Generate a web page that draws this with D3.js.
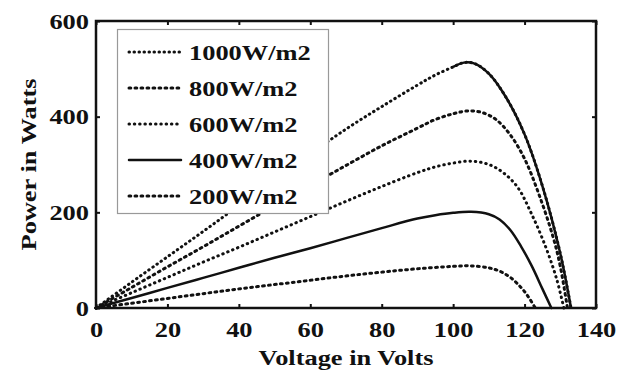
<!DOCTYPE html>
<html>
<head>
<meta charset="utf-8">
<script src="https://cdn.jsdelivr.net/npm/d3@7"></script>
<style>
  html, body { margin: 0; padding: 0; background: #fff; }
  svg { display: block; }
  text { font-family: "Liberation Serif", "Times New Roman", serif; font-weight: bold; fill: #111; }
</style>
</head>
<body>
<svg id="chart" width="629" height="372"></svg>
<script>
// ---- data ----
const xTicks = [0, 20, 40, 60, 80, 100, 120, 140];
const yTicks = [0, 200, 400, 600];
const xTitle = "Voltage in Volts";
const yTitle = "Power in Watts";
const seriesNames = ["1000W/m2", "800W/m2", "600W/m2", "400W/m2", "200W/m2"];

const v1000 = [0, 10, 20, 30, 40, 50, 60, 70, 80, 90, 95, 100, 103, 106, 110, 115, 120, 125, 130, 133];
const p1000 = [0, 54, 107, 160, 214, 268, 322, 374, 421, 466, 487, 504, 513, 511, 490, 438, 363, 255, 114, 0];

const v800 = [0, 10, 20, 30, 40, 50, 60, 70, 80, 90, 95, 100, 104, 108, 112, 116, 120, 124, 128, 130, 132];
const p800 = [0, 43, 86, 128, 171, 214, 256, 298, 339, 376, 394, 406, 412, 409, 394, 362, 312, 238, 148, 87, 0];

const v600 = [0, 10, 20, 30, 40, 50, 60, 70, 80, 90, 95, 100, 105, 110, 114, 118, 122, 126, 129, 131];
const p600 = [0, 32, 64, 96, 127, 159, 191, 223, 254, 283, 295, 303, 307, 300, 283, 253, 196, 126, 60, 0];

const v400 = [0, 10, 20, 30, 40, 50, 60, 70, 80, 90, 95, 100, 105, 110, 113, 116, 119, 122, 125, 127.5];
const p400 = [0, 21, 42, 63, 84, 105, 125, 146, 167, 187, 194, 199, 201, 196, 185, 163, 129, 88, 40, 0];

const v200 = [0, 10, 20, 30, 40, 50, 60, 70, 80, 90, 100, 105, 110, 113, 116, 119, 121, 123];
const p200 = [0, 10, 20, 30, 40, 49, 58, 67, 75, 82, 87, 88, 84, 77, 64, 43, 24, 0];

const voltages = [v1000, v800, v600, v400, v200];
const powers = [p1000, p800, p600, p400, p200];

// ---- layout / style ----
const svg = d3.select("#chart");
const mL = 96, mR = 596, mT = 21, mB = 308;
const SX = 1.2; // horizontal text stretch
const x = d3.scaleLinear().domain([0, 140]).range([mL, mR]);
const y = d3.scaleLinear().domain([0, 600]).range([mB, mT]);

const dashes = ["0.5,4.5", "1.8,4.2", "0.5,4.8", null, "1.8,4.2"];

const line = d3.line()
  .x(d => x(d[0]))
  .y(d => y(d[1]))
  .curve(d3.curveCatmullRom.alpha(0.5));

const seriesData = voltages.map((vs, i) => vs.map((v, j) => [v, powers[i][j]]));

function styled(sel, i) {
  sel.attr("fill", "none").attr("stroke", "#111")
    .attr("stroke-width", i === 3 ? 2.5 : 3)
    .attr("stroke-linecap", "round");
  if (dashes[i]) sel.attr("stroke-dasharray", dashes[i]);
  return sel;
}

// curves
const gCurves = svg.append("g");
seriesData.forEach((pts, i) => {
  styled(gCurves.append("path").attr("d", line(pts)), i);
  if (i === 0) {
    // dense dots merge into a solid stroke past the peak in the reference
    gCurves.append("path")
      .attr("d", line(pts.filter(d => d[0] >= 100)))
      .attr("fill", "none").attr("stroke", "#111")
      .attr("stroke-width", 2.5);
  }
});

// axes (ticks inward, mirrored)
const tickLen = 4;
const xAxis = svg.append("g").attr("transform", `translate(0,${mB})`)
  .call(d3.axisBottom(x).tickValues(xTicks).tickSizeInner(-tickLen).tickSizeOuter(0).tickFormat(d3.format("d")));
const xAxisTop = svg.append("g").attr("transform", `translate(0,${mT})`)
  .call(d3.axisTop(x).tickValues(xTicks).tickSizeInner(-tickLen).tickSizeOuter(0).tickFormat(""));
const yAxis = svg.append("g").attr("transform", `translate(${mL},0)`)
  .call(d3.axisLeft(y).tickValues(yTicks).tickSizeInner(-tickLen).tickSizeOuter(0).tickFormat(d3.format("d")));
const yAxisR = svg.append("g").attr("transform", `translate(${mR},0)`)
  .call(d3.axisRight(y).tickValues(yTicks).tickSizeInner(-tickLen).tickSizeOuter(0).tickFormat(""));

[xAxis, xAxisTop, yAxis, yAxisR].forEach(g => {
  g.select(".domain").remove();
  g.selectAll(".tick line").attr("stroke", "#111").attr("stroke-width", 2);
});

xAxis.selectAll(".tick text")
  .attr("y", 0).attr("dy", 0)
  .attr("transform", `translate(0,29) scale(${SX},1)`)
  .attr("text-anchor", "middle")
  .style("font-size", "22px").style("font-family", "Liberation Serif").style("font-weight", "bold").attr("fill", "#111");

yAxis.selectAll(".tick text")
  .attr("x", 0).attr("dy", 0)
  .attr("transform", `translate(-7,7) scale(${SX},1)`)
  .attr("text-anchor", "end")
  .style("font-size", "22px").style("font-family", "Liberation Serif").style("font-weight", "bold").attr("fill", "#111");

// frame
svg.append("rect")
  .attr("x", mL).attr("y", mT)
  .attr("width", mR - mL).attr("height", mB - mT)
  .attr("fill", "none").attr("stroke", "#111").attr("stroke-width", 2.5);

// axis titles
svg.append("text")
  .attr("transform", `translate(${(mL + mR) / 2},365) scale(${SX},1)`)
  .attr("text-anchor", "middle")
  .style("font-size", "22px")
  .text(xTitle);

svg.append("text")
  .attr("transform", `translate(36,${(mT + mB) / 2}) rotate(-90) scale(${SX},1)`)
  .attr("text-anchor", "middle")
  .style("font-size", "22px")
  .text(yTitle);

// legend
const lg = svg.append("g");
lg.append("rect")
  .attr("x", 117.5).attr("y", 29.5).attr("width", 211).attr("height", 184)
  .attr("fill", "#fff").attr("stroke", "#999").attr("stroke-width", 1.2);

seriesNames.forEach((name, i) => {
  const cy = 52 + i * 36;
  styled(lg.append("line")
    .attr("x1", 129).attr("x2", 181).attr("y1", cy).attr("y2", cy), i);
  lg.append("text")
    .attr("transform", `translate(189,${cy + 8}) scale(${SX},1)`)
    .style("font-size", "22px")
    .text(name);
});
</script>
</body>
</html>
